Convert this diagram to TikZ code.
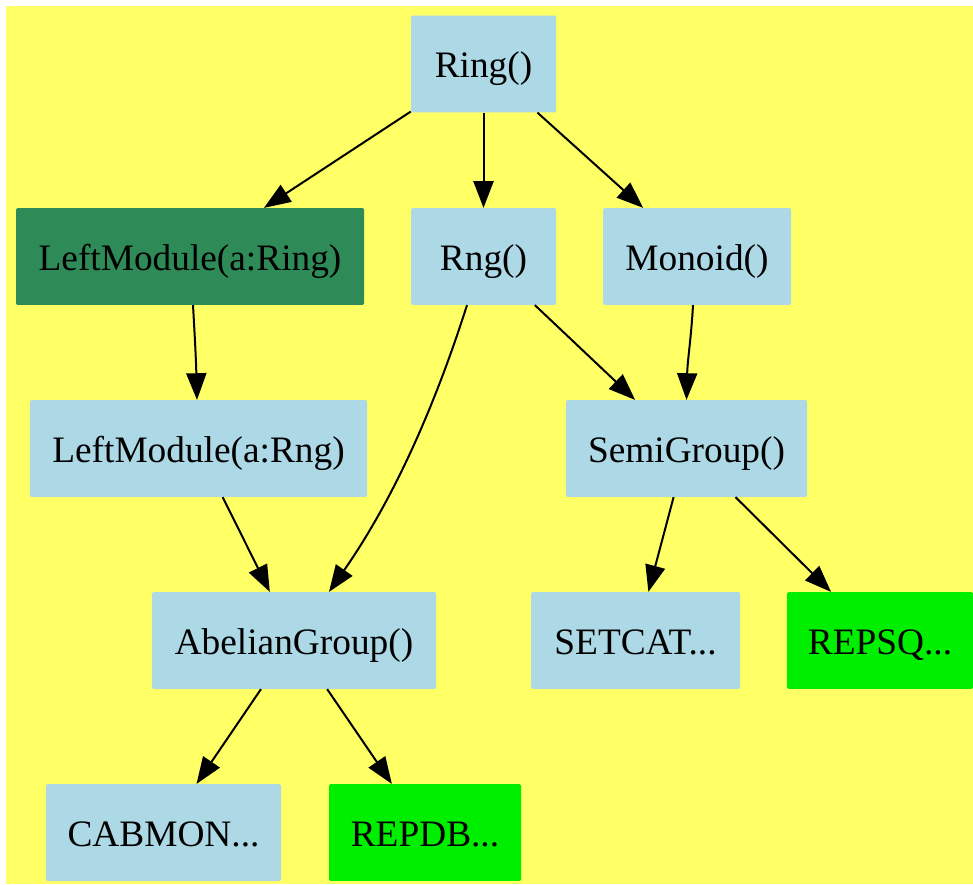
\documentclass[tikz,border=0pt]{standalone}
\usepackage{fontspec}
\setmainfont{Liberation Serif}
\usetikzlibrary{arrows.meta,calc}
\definecolor{bgyellow}{HTML}{FFFF66}
\definecolor{lblue}{HTML}{ADD8E6}
\definecolor{sgreen}{HTML}{2E8B57}
\definecolor{bgreen}{HTML}{00EE00}
\tikzset{
  box/.style={rectangle, inner sep=0pt, minimum height=72.5pt, rounded corners=1pt,
    text height=21pt, text depth=0pt,
    font=\fontsize{28}{34}\selectfont, text=black},
  lb/.style={box, fill=lblue},
  dg/.style={box, fill=sgreen},
  gr/.style={box, fill=bgreen},
  edge/.style={draw=black, line width=1.5pt, -{Triangle[length=20pt,width=15pt]}}
}
\begin{document}
\begin{tikzpicture}[x=0.75pt,y=-0.75pt]
\useasboundingbox (0,0) rectangle (973,884);
\fill[bgyellow] (6,6) rectangle (973,884);
\node[lb, minimum width=108.75pt] (ring) at (483.5,64) {Ring()};
\node[dg, minimum width=261pt] (lmring) at (190,256.5) {LeftModule(a:Ring)};
\node[lb, minimum width=108.75pt] (rng) at (483.5,256.5) {Rng()};
\node[lb, minimum width=141pt] (monoid) at (697,256.5) {Monoid()};
\node[lb, minimum width=252.75pt] (lmrng) at (198.5,448.5) {LeftModule(a:Rng)};
\node[lb, minimum width=180.75pt] (semi) at (686.5,448.5) {SemiGroup()};
\node[lb, minimum width=213pt] (abel) at (294,640.5) {AbelianGroup()};
\node[lb, minimum width=156.75pt] (setcat) at (635.5,640.5) {SETCAT...};
\node[gr, minimum width=139.5pt] (repsq) at (880,640.5) {REPSQ...};
\node[lb, minimum width=176.25pt] (cabmon) at (163.5,832.5) {CABMON...};
\node[gr, minimum width=144pt] (repdb) at (425,832.5) {REPDB...};
\draw[edge] (ring) -- (lmring);
\draw[edge] (ring) -- (rng);
\draw[edge] (ring) -- (monoid);
\draw[edge] ($(lmring.south)+(3,0)$) .. controls +(2,35) and +(-1,-40) .. ($(lmrng.north)+(-1.5,0)$);
\draw[edge] ($(rng.south)+(-16.5,0)$) .. controls (440,390) and (400,490) .. ($(abel.north)+(35,0)$);
\draw[edge] (rng) -- (semi);
\draw[edge] ($(monoid.south)+(-4,0)$) .. controls +(-2,35) and +(1,-40) .. (semi.north);
\draw[edge] (lmrng) -- (abel);
\draw[edge] (semi) -- (setcat);
\draw[edge] (semi) -- (repsq);
\draw[edge] (abel) -- (cabmon);
\draw[edge] (abel) -- (repdb);
\end{tikzpicture}
\end{document}
